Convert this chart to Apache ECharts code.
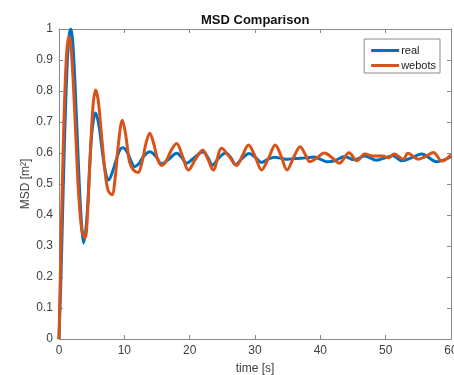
<!DOCTYPE html>
<html>
<head>
<meta charset="utf-8">
<script src="https://cdn.jsdelivr.net/npm/echarts@6/dist/echarts.min.js"></script>
<style>html,body{margin:0;padding:0;background:#fff;}#c{width:454px;height:375px;}</style>
</head>
<body>
<div id="c"></div>
<script>
var xTicks = [0, 10, 20, 30, 40, 50, 60];
var yTicks = [0, 0.1, 0.2, 0.3, 0.4, 0.5, 0.6, 0.7, 0.8, 0.9, 1];

var realT = [0,0.3,0.6,0.9,1.2,1.5,1.8,2.1,2.5,2.9,3.3,3.8,4.3,4.7,5.1,5.6,6.1,6.6,7.1,7.6,8.2,8.8,9.3,9.8,10.5,11.0,11.6,12.2,12.8,13.9,14.8,15.7,16.8,18,18.8,19.5,20.7,22,22.8,23.5,24.5,25.5,26.3,27.0,28.0,29.1,30.1,31.0,32.0,33.0,34.0,35.0,36.0,37.0,38.0,39.0,40.0,41.0,42.3,43.7,45.2,46.8,48.6,50.0,51.1,52.5,54.0,55.5,57.8,60];
var realV = [0,0.2,0.45,0.68,0.86,0.97,1.0,0.96,0.8,0.6,0.42,0.31,0.4,0.56,0.68,0.729,0.69,0.61,0.54,0.513,0.54,0.58,0.61,0.617,0.6,0.575,0.556,0.565,0.585,0.604,0.59,0.565,0.58,0.599,0.585,0.567,0.585,0.603,0.585,0.561,0.585,0.6,0.585,0.562,0.582,0.598,0.585,0.569,0.58,0.586,0.583,0.58,0.582,0.583,0.585,0.587,0.58,0.572,0.576,0.589,0.578,0.59,0.577,0.585,0.591,0.575,0.585,0.597,0.572,0.588];

var webotsT = [0,0.3,0.6,0.9,1.2,1.5,1.8,2.2,2.6,3.0,3.5,4.0,4.4,4.8,5.2,5.6,6.0,6.5,7.0,7.5,8.1,8.6,9.1,9.7,10.2,10.8,11.4,12.1,12.7,13.3,13.9,14.5,15.1,15.7,16.3,17.2,18,18.9,19.8,20.9,22,22.8,23.6,24.9,26.0,27.2,28.1,29,30,31,32.1,33.1,34,34.9,35.9,36.9,37.7,38.4,39.5,40.6,41.8,42.9,44.4,45.6,46.8,48,49.5,50.5,51.3,52.7,53.4,55,56.2,57.3,58.6,60];
var webotsV = [0,0.3,0.58,0.8,0.93,0.975,0.95,0.82,0.64,0.47,0.35,0.326,0.42,0.6,0.75,0.803,0.77,0.66,0.55,0.48,0.465,0.52,0.63,0.706,0.66,0.57,0.545,0.537,0.57,0.63,0.664,0.63,0.58,0.56,0.57,0.61,0.631,0.59,0.545,0.58,0.61,0.58,0.545,0.615,0.59,0.56,0.593,0.626,0.59,0.545,0.585,0.626,0.59,0.545,0.585,0.62,0.595,0.572,0.585,0.6,0.585,0.567,0.601,0.575,0.597,0.59,0.59,0.585,0.597,0.58,0.599,0.58,0.59,0.602,0.574,0.594];

function pairs(t, v) { return t.map(function (x, i) { return [x, v[i]]; }); }

var font = 'Liberation Sans, Arial, Helvetica, sans-serif';
var axisCol = '#8a8a8a';
var textCol = '#404040';

var chart = echarts.init(document.getElementById('c'), null, {renderer: 'canvas'});
function xa(pos, labels) {
  return {
    type: 'value', position: pos, min: xTicks[0], max: xTicks[xTicks.length - 1], interval: 10,
    axisLine: {show: true, onZero: false, lineStyle: {color: axisCol, width: 1}},
    axisTick: {show: true, inside: true, length: 4, lineStyle: {color: axisCol}},
    axisLabel: {show: labels, color: textCol, fontSize: 12, fontFamily: font, margin: 6,
      alignMaxLabel: 'center', alignMinLabel: 'center', hideOverlap: false},
    splitLine: {show: false},
    name: labels ? 'time [s]' : '', nameLocation: 'middle', nameGap: 24, nameMoveOverlap: false,
    nameTextStyle: {color: textCol, fontSize: 12, fontFamily: font}
  };
}
function ya(pos, labels) {
  return {
    type: 'value', position: pos, min: 0, max: 1, interval: 0.1,
    axisLine: {show: true, onZero: false, lineStyle: {color: axisCol, width: 1}},
    axisTick: {show: true, inside: true, length: 4, lineStyle: {color: axisCol}},
    axisLabel: {show: labels, color: textCol, fontSize: 12, fontFamily: font, margin: 6,
      formatter: function (v) { return String(Math.round(v * 10) / 10); }},
    splitLine: {show: false},
    name: labels ? 'MSD [m²]' : '', nameLocation: 'middle', nameGap: 27, nameRotate: 90, nameMoveOverlap: false,
    nameTextStyle: {color: textCol, fontSize: 12, fontFamily: font}
  };
}

chart.setOption({
  animation: false,
  backgroundColor: '#ffffff',
  title: {
    text: 'MSD Comparison', left: 196, top: 9,
    textStyle: {fontSize: 13, fontWeight: 'bold', color: '#111', fontFamily: font}
  },
  legend: {
    orient: 'vertical', right: 14, top: 39,
    data: ['real', 'webots'],
    icon: 'rect', itemWidth: 28, itemHeight: 3, itemGap: 4,
    borderColor: axisCol, borderWidth: 1, borderRadius: 0,
    padding: [6, 4, 2, 7],
    textStyle: {fontSize: 11, color: '#222', fontFamily: font, padding: [0, 0, 0, -3]}
  },
  grid: {left: 59, right: 3, top: 29, bottom: 36, containLabel: false, outerBoundsMode: 'none'},
  xAxis: [xa('bottom', true), xa('top', false)],
  yAxis: [ya('left', true), ya('right', false)],
  series: [
    {name: 'real', type: 'line', data: pairs(realT, realV), smooth: 0.35, showSymbol: false,
      lineStyle: {color: '#0072BD', width: 3}, itemStyle: {color: '#0072BD'}, xAxisIndex: 0, yAxisIndex: 0},
    {name: 'webots', type: 'line', data: pairs(webotsT, webotsV), smooth: 0.35, showSymbol: false,
      lineStyle: {color: '#D95319', width: 3}, itemStyle: {color: '#D95319'}, xAxisIndex: 0, yAxisIndex: 0}
  ]
});
</script>
</body>
</html>
